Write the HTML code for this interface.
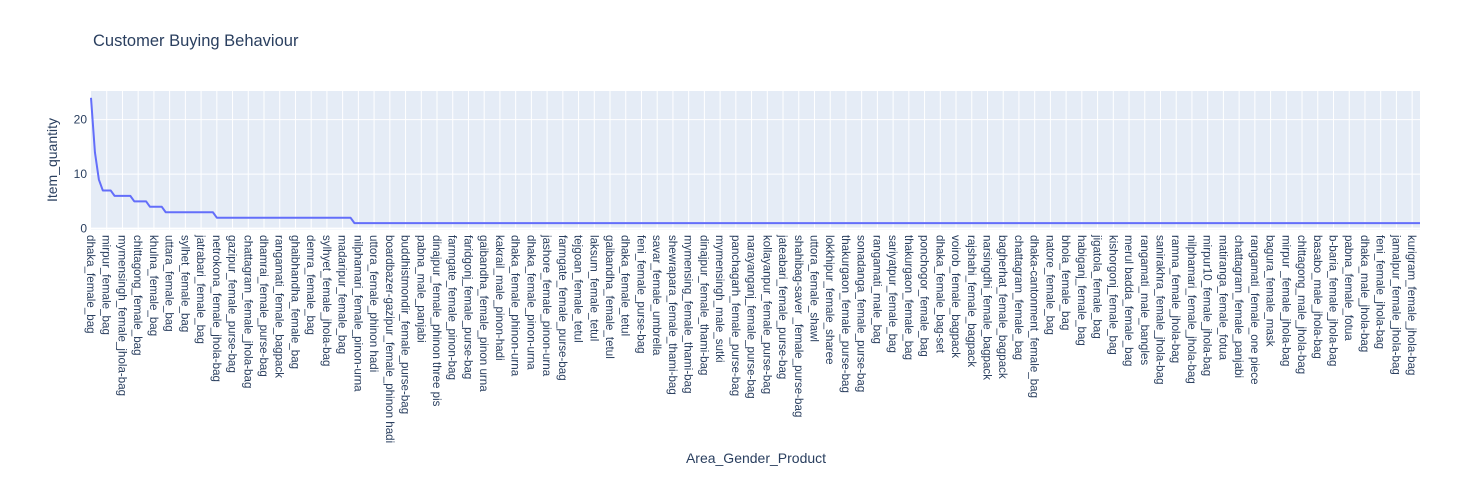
<!DOCTYPE html>
<html><head><meta charset="utf-8"><style>
html,body{margin:0;padding:0;background:#fff;}
svg{display:block;font-family:"Liberation Sans",sans-serif;}
</style></head><body>
<svg id="chart" width="1467" height="494" xmlns="http://www.w3.org/2000/svg">
<rect width="1467" height="494" fill="#fff"/>
<text x="93" y="46" font-size="16.5" fill="#2a3f5f">Customer Buying Behaviour</text>
<rect x="91" y="91" width="1329" height="139" fill="#e5ecf6"/>
<g id="grid"></g>
<g id="yticks"></g>
<g id="xticks"></g>
<path id="line" fill="none" stroke="#636efa" stroke-width="2" stroke-linejoin="round"/>
<text transform="translate(57,160) rotate(-90)" text-anchor="middle" font-size="14" fill="#2a3f5f">Item_quantity</text>
<text x="756" y="463" text-anchor="middle" font-size="14" fill="#2a3f5f">Area_Gender_Product</text>
</svg>
<script>
const tickLabels = ["dhaka_female_bag","mirpur_female_bag","mymensingh_female_jhola-bag","chittagong_female_bag","khulna_female_bag","uttara_female_bag","sylhet_female_bag","jatrabari_female_bag","netrokona_female_jhola-bag","gazipur_female_purse-bag","chattagram_female_jhola-bag","dhamrai_female_purse-bag","rangamati_female_bagpack","ghaibhandha_female_bag","demra_female_bag","sylhyet_female_jhola-bag","madaripur_female_bag","nilphamari_female_pinon-urna","uttora_female_phinon hadi","boardbazer-gazipur_female_phinon hadi","buddhistmondir_female_purse-bag","pabna_male_panjabi","dinajpur_female_phinon three pis","farmgate_female_pinon-bag","faridgonj_female_purse-bag","gaibandha_female_pinon urna","kakrail_male_pinon-hadi","dhaka_female_phinon-urna","dhaka_female_pinon-urna","jashore_female_pinon-urna","farmgate_female_purse-bag","tejgoan_female_tetul","laksum_female_tetul","gaibandha_female_tetul","dhaka_female_tetul","feni_female_purse-bag","savar_female_umbrella","shewrapara_female_thami-bag","mymensing_female_thami-bag","dinajpur_female_thami-bag","mymensingh_male_sutki","panchagarh_female_purse-bag","narayanganj_female_purse-bag","kollayanpur_female_purse-bag","jateabari_female_purse-bag","shahibag-saver _female_purse-bag","uttora_female_shawl","lokkhipur_female_sharee","thakurgaon_female_purse-bag","sonadanga_female_purse-bag","rangamati_male_bag","sariyatpur_female_bag","thakurgaon_female_bag","ponchogor_female_bag","dhaka_female_bag-set","voirob_female_bagpack","rajshahi_female_bagpack","narsingdhi_female_bagpack","bagherhat_female_bagpack","chattagram_female_bag","dhaka-cantonment_female_bag","natore_female_bag","bhola_female_bag","habiganj_female_bag","jigatola_female_bag","kishorgonj_female_bag","merul badda_female_bag","rangamati_male_bangles","sanirakhra_female_jhola-bag","ramna_female_jhola-bag","nilphamari_female_jhola-bag","mirpur10_female_jhola-bag","matiranga_female_fotua","chattagram_female_panjabi","rangamati_female_one piece","bagura_female_mask","mirpur _female_jhola-bag","chittagong_male_jhola-bag","basabo_male_jhola-bag","b-baria_female_jhola-bag","pabna_female_fotua","dhaka_male_jhola-bag","feni_female_jhola-bag","jamalpur_female_jhola-bag","kurigram_female_jhola-bag"];
const tickStep = 4;
const yTicks = [0, 10, 20];
const quantities = [24,14,9,7,7,7,6,6,6,6,6,5,5,5,5,4,4,4,4,
3,3,3,3,3,3,3,3,3,3,3,3,3,
2,2,2,2,2,2,2,2,2,2,2,2,2,2,2,2,2,2,2,2,2,2,2,2,2,2,2,2,2,2,2,2,2,2,2,
1,1,1,1,1,1,1,1,1,1,1,1,1,1,1,1,1,1,1,1,
1,1,1,1,1,1,1,1,1,1,1,1,1,1,1,1,1,1,1,1,
1,1,1,1,1,1,1,1,1,1,1,1,1,1,1,1,1,1,1,1,
1,1,1,1,1,1,1,1,1,1,1,1,1,1,1,1,1,1,1,1,
1,1,1,1,1,1,1,1,1,1,1,1,1,1,1,1,1,1,1,1,
1,1,1,1,1,1,1,1,1,1,1,1,1,1,1,1,1,1,1,1,
1,1,1,1,1,1,1,1,1,1,1,1,1,1,1,1,1,1,1,1,
1,1,1,1,1,1,1,1,1,1,1,1,1,1,1,1,1,1,1,1,
1,1,1,1,1,1,1,1,1,1,1,1,1,1,1,1,1,1,1,1,
1,1,1,1,1,1,1,1,1,1,1,1,1,1,1,1,1,1,1,1,
1,1,1,1,1,1,1,1,1,1,1,1,1,1,1,1,1,1,1,1,
1,1,1,1,1,1,1,1,1,1,1,1,1,1,1,1,1,1,1,1,
1,1,1,1,1,1,1,1,1,1,1,1,1,1,1,1,1,1,1,1,
1,1,1,1,1,1,1,1,1,1,1,1];

const NS = "http://www.w3.org/2000/svg";
const PX0 = 91, PW = 1329, PY0 = 91, PH = 139;
const yMin = -0.26, yMax = 25.25;
const n = quantities.length;
function xPos(i){ return PX0 + i * PW / (n - 1); }
function yPos(v){ return PY0 + PH - (v - yMin) / (yMax - yMin) * PH; }

const grid = document.getElementById('grid');
const xt = document.getElementById('xticks');
const yt = document.getElementById('yticks');

tickLabels.forEach((lab, k) => {
  const x = xPos(k * tickStep);
  if (k > 0) {
    const g = document.createElementNS(NS, 'line');
    
    
    g.setAttribute('x1', x); g.setAttribute('x2', x);
    g.setAttribute('y1', PY0); g.setAttribute('y2', PY0 + PH);
    g.setAttribute('stroke', '#fff'); g.setAttribute('stroke-width', '1');
    grid.appendChild(g);
  }
  const t = document.createElementNS(NS, 'text');
  
  
  t.setAttribute('transform', 'translate(' + (x - 4) + ',235) rotate(90)');
  t.setAttribute('font-size', '11.6');
  t.setAttribute('fill', '#2a3f5f');
  t.textContent = lab;
  xt.appendChild(t);
});

yTicks.forEach(v => {
  const y = yPos(v);
  const g = document.createElementNS(NS, 'line');
  
  
  g.setAttribute('x1', PX0); g.setAttribute('x2', PX0 + PW);
  g.setAttribute('y1', y); g.setAttribute('y2', y);
  g.setAttribute('stroke', '#fff'); g.setAttribute('stroke-width', v === 0 ? '2' : '1');
  grid.appendChild(g);
  const t = document.createElementNS(NS, 'text');
  
  
  t.setAttribute('x', PX0 - 4); t.setAttribute('y', y + 4);
  t.setAttribute('text-anchor', 'end');
  t.setAttribute('font-size', '12');
  t.setAttribute('fill', '#2a3f5f');
  t.textContent = v;
  yt.appendChild(t);
});

let d = '';
quantities.forEach((v, i) => { d += (i ? 'L' : 'M') + xPos(i).toFixed(2) + ',' + yPos(v).toFixed(2); });
document.getElementById('line').setAttribute('d', d);
</script>
</body></html>
